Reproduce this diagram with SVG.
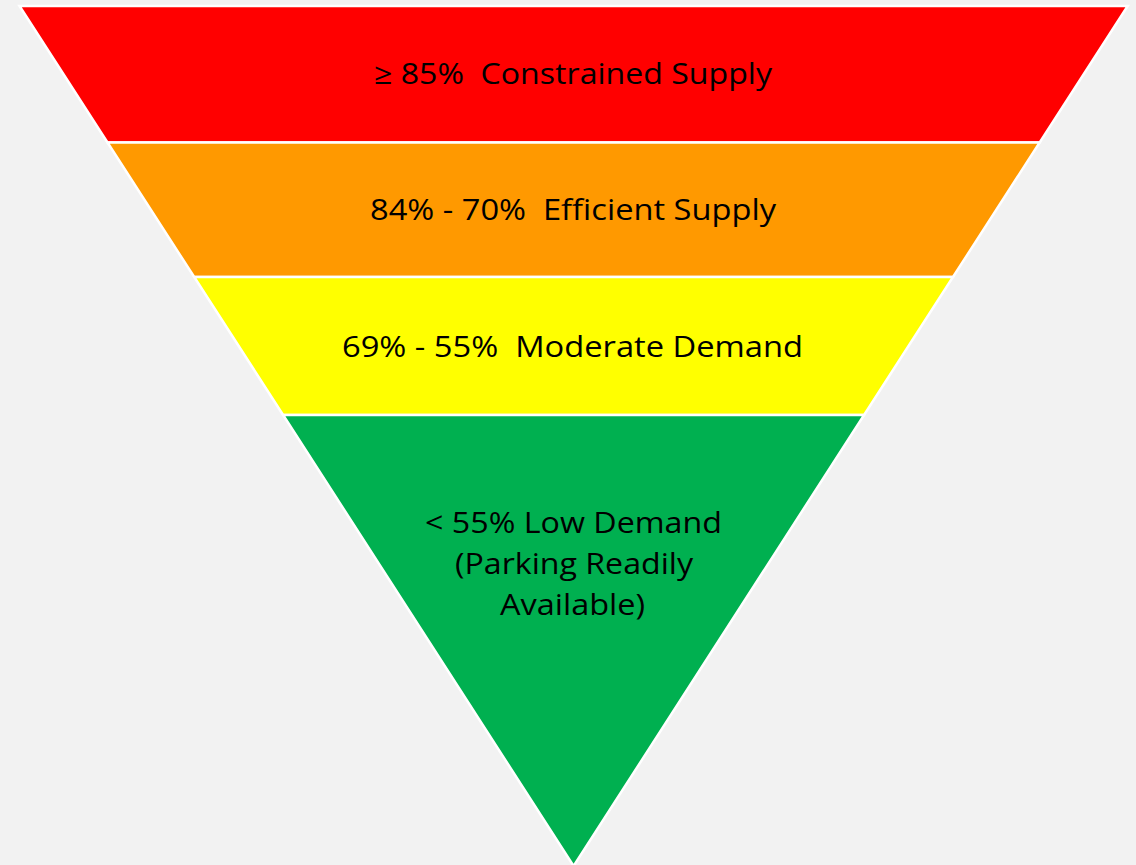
<svg xmlns="http://www.w3.org/2000/svg" width="1136" height="865" viewBox="0 0 1136 865">
<style>
.band{stroke:#ffffff;stroke-width:2.5;stroke-linejoin:miter}
.lbl{font-family:"Open Sans","Noto Sans","Liberation Sans",sans-serif;font-size:29px;fill:#000000;text-anchor:middle;white-space:pre}
</style>
<rect x="0" y="0" width="1136" height="865" fill="#f2f2f2"/>
<g id="band-red">
<polygon class="band" fill="#ff0000" points="19.5,6 1127.7,6 1039.7,142.5 107.5,142.5"/>
<text class="lbl" x="573" y="84" textLength="398" lengthAdjust="spacingAndGlyphs">≥ 85%  Constrained Supply</text>
</g>
<g id="band-orange">
<polygon class="band" fill="#ff9900" points="107.5,142.5 1039.7,142.5 953,277 194.2,277"/>
<text class="lbl" x="573" y="220" textLength="406" lengthAdjust="spacingAndGlyphs">84% - 70%  Efficient Supply</text>
</g>
<g id="band-yellow">
<polygon class="band" fill="#ffff00" points="194.2,277 953,277 864.1,415 283.1,415"/>
<text class="lbl" x="572.5" y="357" textLength="461" lengthAdjust="spacingAndGlyphs">69% - 55%  Moderate Demand</text>
</g>
<g id="band-green">
<polygon class="band" fill="#00b050" points="283.1,415 864.1,415 573.6,866"/>
<text class="lbl" x="573.5" y="533" textLength="297" lengthAdjust="spacingAndGlyphs">&lt; 55% Low Demand</text>
<text class="lbl" x="574" y="574" textLength="238" lengthAdjust="spacingAndGlyphs">(Parking Readily</text>
<text class="lbl" x="572.5" y="615" textLength="145" lengthAdjust="spacingAndGlyphs">Available)</text>
</g>
<g id="connectors"></g>
</svg>
